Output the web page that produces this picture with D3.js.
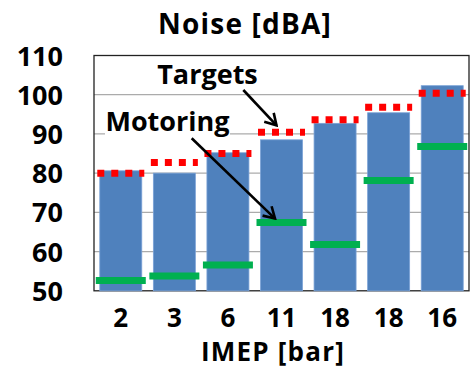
<!DOCTYPE html>
<html>
<head>
<meta charset="utf-8">
<script src="https://cdn.jsdelivr.net/npm/d3@7/dist/d3.min.js"></script>
<style>
  html, body { margin: 0; padding: 0; background: #fff; }
  svg { display: block; }
  text { font-family: "Open Sans", Lato, sans-serif; font-weight: 700; fill: #000; }
</style>
</head>
<body>
<svg id="chart" width="472" height="368"></svg>
<script>
// IMEP operating points (tick labels; two points share the value 18)
const imepLabels = ["2", "3", "6", "11", "18", "18", "16"];
// Measured noise level per operating point [dBA]
const noiseValues = [80.6, 80.0, 85.2, 88.5, 92.7, 95.4, 102.3];
// Target noise level per operating point [dBA]
const targetValues = [80.0, 82.7, 85.0, 90.4, 93.6, 96.8, 100.4];
// Motoring noise level per operating point [dBA]
const motoringValues = [52.6, 53.8, 56.6, 67.4, 61.8, 78.1, 86.8];
// Y axis ticks
const yTicks = [50, 60, 70, 80, 90, 100, 110];

const svg = d3.select("#chart");
const plot = { left: 94, right: 469, top: 55.5, bottom: 290.8 };
const fontSize = 27;

const idx = imepLabels.map((_, i) => i);
const x = d3.scaleBand()
  .domain(idx)
  .range([plot.left, plot.right])
  .paddingInner(0.216)
  .paddingOuter(0.108);
const y = d3.scaleLinear().domain([50, 110]).range([plot.bottom, plot.top]);
const cx = i => x(i) + x.bandwidth() / 2;

// Horizontal gridlines
svg.append("g")
  .selectAll("line")
  .data(yTicks.slice(1, -1))
  .join("line")
  .attr("x1", plot.left).attr("x2", plot.right)
  .attr("y1", d => y(d)).attr("y2", d => y(d))
  .attr("stroke", "#ababab").attr("stroke-width", 1.2);

// Plot frame
svg.append("rect")
  .attr("x", plot.left).attr("y", plot.top)
  .attr("width", plot.right - plot.left).attr("height", plot.bottom - plot.top)
  .attr("fill", "none").attr("stroke", "#222").attr("stroke-width", 1.3);

// Noise bars
svg.append("g")
  .selectAll("rect")
  .data(noiseValues)
  .join("rect")
  .attr("x", (d, i) => x(i))
  .attr("width", x.bandwidth())
  .attr("y", d => y(d))
  .attr("height", d => plot.bottom - y(d))
  .attr("fill", "#4f81bd")
  .attr("stroke", "#7aa2d6").attr("stroke-width", 0.8);

// Motoring markers (green dashes)
svg.append("g")
  .selectAll("line")
  .data(motoringValues)
  .join("line")
  .attr("x1", (d, i) => cx(i) - 25).attr("x2", (d, i) => cx(i) + 25)
  .attr("y1", d => y(d)).attr("y2", d => y(d))
  .attr("stroke", "#00b050").attr("stroke-width", 7);

// Target markers (red dotted dashes)
svg.append("g")
  .selectAll("line")
  .data(targetValues)
  .join("line")
  .attr("x1", (d, i) => cx(i) - 23.5).attr("x2", (d, i) => Math.min(cx(i) + 23.5, plot.right))
  .attr("y1", d => y(d)).attr("y2", d => y(d))
  .attr("stroke", "#ff0000").attr("stroke-width", 7)
  .attr("stroke-dasharray", "7,7");

// Y tick labels
svg.append("g")
  .selectAll("text")
  .data(yTicks)
  .join("text")
  .attr("x", 63)
  .attr("y", d => y(d) + 10)
  .attr("text-anchor", "end")
  .attr("font-size", fontSize)
  .text(d => d);

// X tick labels
svg.append("g")
  .selectAll("text")
  .data(imepLabels)
  .join("text")
  .attr("x", (d, i) => cx(i))
  .attr("y", 326.5)
  .attr("text-anchor", "middle")
  .attr("font-size", 26)
  .text(d => d);

// Titles
svg.append("text")
  .attr("x", 245).attr("y", 33.5)
  .attr("text-anchor", "middle").attr("font-size", 28)
  .attr("letter-spacing", 1.2)
  .text("Noise [dBA]");
svg.append("text")
  .attr("x", 273).attr("y", 360.5)
  .attr("text-anchor", "middle").attr("font-size", 26)
  .attr("letter-spacing", 1.2)
  .text("IMEP [bar]");

// Arrowhead marker
svg.append("defs").append("marker")
  .attr("id", "head")
  .attr("viewBox", "-12 -8 14 16")
  .attr("refX", 0).attr("refY", 0)
  .attr("markerWidth", 14).attr("markerHeight", 16)
  .attr("markerUnits", "userSpaceOnUse")
  .attr("orient", "auto")
  .append("path")
  .attr("d", "M-11,-6.5 L0,0 L-11,6.5")
  .attr("fill", "none").attr("stroke", "#000").attr("stroke-width", 2.6);

// Annotations pointing at the 11 bar IMEP point
const pointIdx = 3;

// "Motoring" label with white box over the gridline
svg.append("rect")
  .attr("x", 105).attr("y", 108).attr("width", 125).attr("height", 29)
  .attr("fill", "#fff");
svg.append("text")
  .attr("x", 167.5).attr("y", 130.5)
  .attr("text-anchor", "middle").attr("font-size", fontSize)
  .text("Motoring");
svg.append("line")
  .attr("x1", 191.7).attr("y1", 138.3)
  .attr("x2", cx(pointIdx) - 6.5).attr("y2", y(motoringValues[pointIdx]) - 4)
  .attr("stroke", "#000").attr("stroke-width", 2.6)
  .attr("marker-end", "url(#head)");

svg.append("text")
  .attr("x", 207.5).attr("y", 83.5)
  .attr("text-anchor", "middle").attr("font-size", fontSize)
  .text("Targets");
svg.append("line")
  .attr("x1", 243.3).attr("y1", 90)
  .attr("x2", cx(pointIdx) - 5).attr("y2", y(targetValues[pointIdx]) - 7)
  .attr("stroke", "#000").attr("stroke-width", 2.6)
  .attr("marker-end", "url(#head)");
</script>
</body>
</html>
